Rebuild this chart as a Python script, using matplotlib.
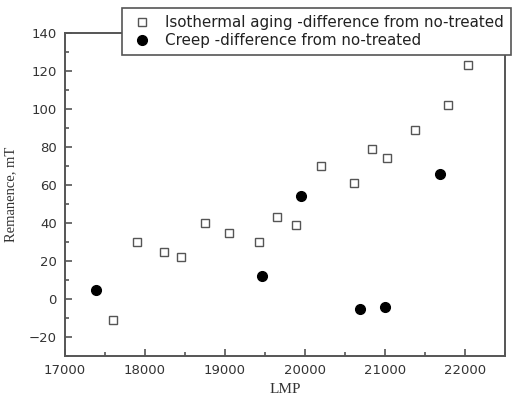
import numpy as np
import matplotlib
matplotlib.use("Agg")
import matplotlib.pyplot as plt
from matplotlib.ticker import MultipleLocator

# --- Data ---
iso_lmp = [17600, 17900, 18240, 18450, 18750, 19050, 19420, 19650, 19890,
           20200, 20610, 20840, 21020, 21370, 21790, 22040]
iso_rem = [-11, 30, 25, 22, 40, 35, 30, 43, 39, 70, 61, 79, 74, 89, 102, 123]

creep_lmp = [17390, 19460, 19950, 20690, 21000, 21690]
creep_rem = [5, 12, 54, -5, -4, 66]

iso_label = "Isothermal aging -difference from no-treated"
creep_label = "Creep -difference from no-treated"

gray = "#555555"

fig = plt.figure(figsize=(5.21, 4.0), dpi=100)
ax = fig.add_axes([65 / 521, 1 - 356 / 400, 440 / 521, 323 / 400])

ax.plot(iso_lmp, iso_rem, linestyle="none", marker="s", markersize=5.5,
        markerfacecolor="white", markeredgecolor=gray, markeredgewidth=1.0,
        label=iso_label)
ax.plot(creep_lmp, creep_rem, linestyle="none", marker="o", markersize=7,
        markerfacecolor="black", markeredgecolor="black", label=creep_label)

ax.set_xlim(17000, 22500)
ax.set_ylim(-30, 140)
ax.xaxis.set_major_locator(MultipleLocator(1000))
ax.xaxis.set_minor_locator(MultipleLocator(500))
ax.yaxis.set_major_locator(MultipleLocator(20))
ax.yaxis.set_minor_locator(MultipleLocator(10))
ax.tick_params(which="both", direction="in", color=gray, width=1.2,
               labelsize=9.5, labelcolor="#333333", pad=6)
ax.tick_params(which="major", length=5)
ax.tick_params(which="minor", length=3)
for s in ax.spines.values():
    s.set_color(gray)
    s.set_linewidth(1.4)

ax.set_xlabel("LMP", family="Liberation Serif", fontsize=11, color="#333333",
              labelpad=4)
ax.set_ylabel("Remanence, mT", family="Liberation Serif", fontsize=10.5,
              color="#333333", labelpad=8)

leg = ax.legend(loc="upper left", bbox_to_anchor=(122 / 521, 1 - 8 / 400),
                bbox_transform=fig.transFigure, borderaxespad=0,
                fancybox=False, edgecolor=gray, framealpha=1, fontsize=10.9,
                handletextpad=0.6, borderpad=0.45, labelspacing=0.2,
                handlelength=1.8)
leg.get_frame().set_linewidth(1.2)
for t in leg.get_texts():
    t.set_color("#222222")

fig.savefig("out.png", dpi=100)
